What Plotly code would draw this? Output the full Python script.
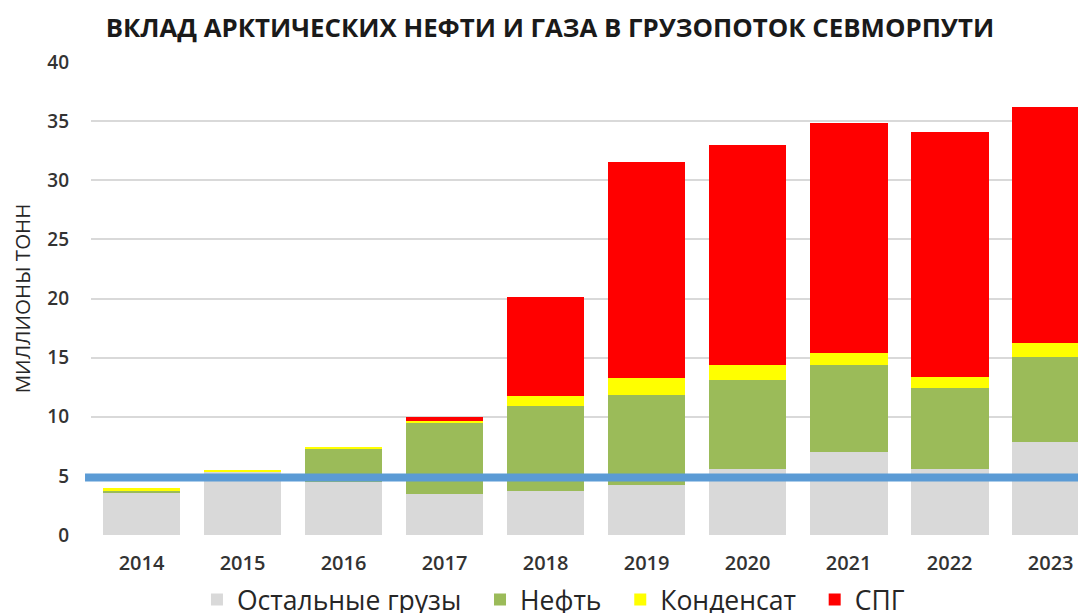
import plotly.graph_objects as go

years = ["2014", "2015", "2016", "2017", "2018", "2019", "2020", "2021", "2022", "2023"]
other_cargo = [3.6, 5.3, 4.5, 3.45, 3.7, 4.25, 5.55, 7.05, 5.6, 7.9]
oil = [0.15, 0.0, 2.85, 6.1, 7.2, 7.6, 7.6, 7.3, 6.8, 7.15]
condensate = [0.2, 0.2, 0.1, 0.1, 0.85, 1.4, 1.2, 1.0, 0.95, 1.15]
lng = [0.0, 0.0, 0.0, 0.35, 8.35, 18.3, 18.6, 19.45, 20.75, 20.0]
threshold = 4.86

NB = "\u00a0"
series = [
    ("Остальные грузы", other_cargo, "#d9d9d9"),
    ("Нефть", oil, "#9bbb59"),
    ("Конденсат", condensate, "#ffff00"),
    ("СПГ", lng, "#ff0000"),
]

fig = go.Figure()
for i, (name, vals, color) in enumerate(series):
    label = name + (NB * 2 if i < len(series) - 1 else "")
    fig.add_trace(go.Bar(x=years, y=vals, name=label, marker=dict(color=color, line=dict(width=0))))

fig.add_shape(type="line", xref="paper", yref="y", x0=-0.006, x1=1.0, y0=threshold, y1=threshold,
              line=dict(color="#5b9bd5", width=8), layer="above")

fig.update_layout(
    width=1086, height=613,
    margin=dict(l=83, r=8, t=54, b=86, autoexpand=False),
    barmode="stack", bargap=0.23,
    plot_bgcolor="white", paper_bgcolor="white",
    font=dict(family="Open Sans", color="#333333"),
    title=dict(text="<b>ВКЛАД АРКТИЧЕСКИХ НЕФТИ И ГАЗА В ГРУЗОПОТОК СЕВМОРПУТИ</b>",
               x=0.499, xanchor="center", y=0.967, yanchor="middle", xref="container", yref="container",
               font=dict(size=25.8, color="#1a1a1a", family="Open Sans")),
    xaxis=dict(range=[-0.5, 9.35], showgrid=False, showline=False, ticks="",
               tickfont=dict(size=20, color="#333333", weight=600), ticklabelstandoff=14),
    yaxis=dict(range=[0, 40], dtick=5, showgrid=True, gridcolor="#d9d9d9", gridwidth=1.5,
               zeroline=False, showline=False, ticks="",
               tickfont=dict(size=19, color="#333333", weight=600), ticklabelstandoff=21,
               title=dict(text="МИЛЛИОНЫ ТОНН", font=dict(size=20.5, color="#262626"), standoff=14)),
    legend=dict(orientation="h", x=0.1065, xanchor="left", y=-0.137, yanchor="middle",
                font=dict(size=26.5, color="#262626"), itemwidth=30, traceorder="normal"),
)

fig.write_html("out.html")
